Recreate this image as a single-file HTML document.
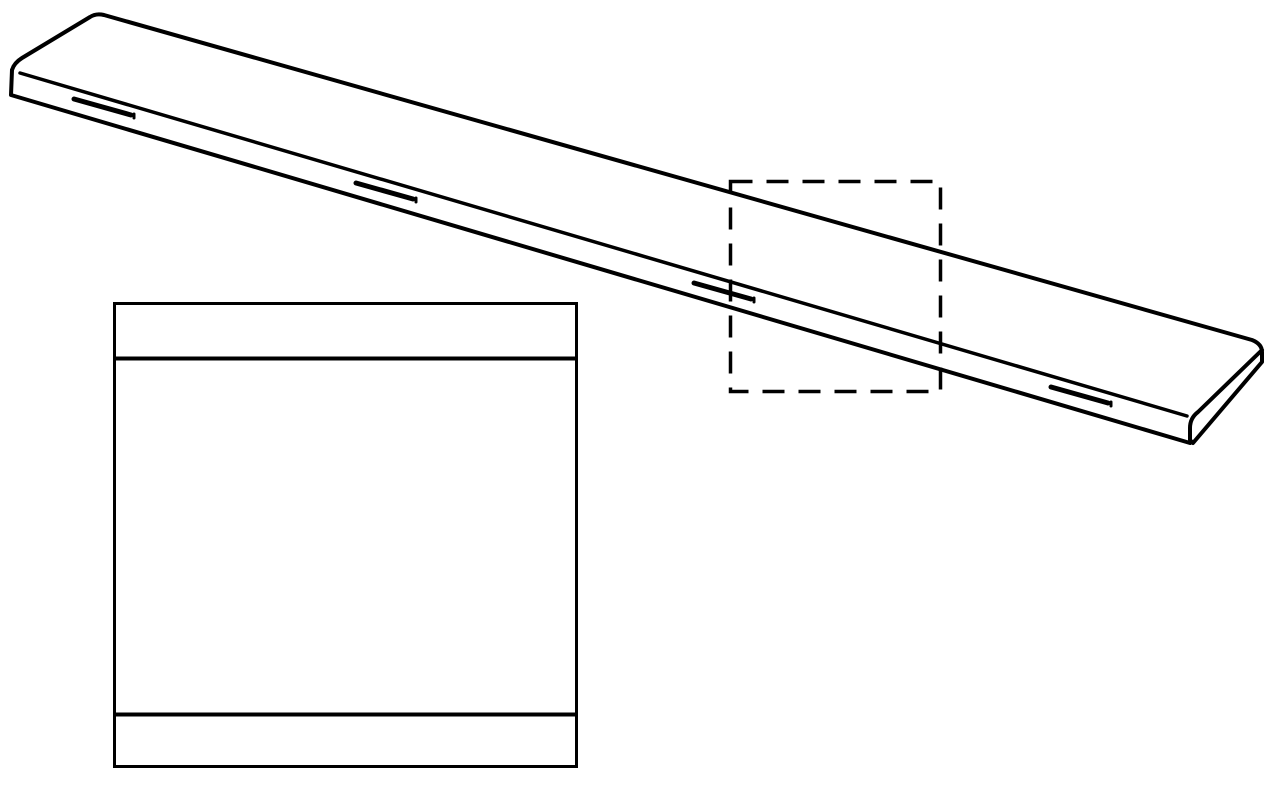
<!DOCTYPE html>
<html><head><meta charset="utf-8"><style>html,body{margin:0;padding:0;background:#fff;width:1280px;height:800px;overflow:hidden}</style></head>
<body>
<svg width="1280" height="800" viewBox="0 0 1280 800" xmlns="http://www.w3.org/2000/svg" fill="none" stroke="#000" stroke-linejoin="round" stroke-linecap="round">
<path d="M12,70 Q14,63 22,58 L90,17 Q96,13 104,15 L1252,340 Q1262,344 1262,352 L1262,362 L1193,443 L1190,440 L1190,428 Q1190,418 1198,412 L1262,350" stroke-width="4"/>
<path d="M12,70 L11,95 L1190,443" stroke-width="4"/>
<path d="M20,73 L1187,416" stroke-width="3.5"/>
<g stroke-width="5">
<line x1="74" y1="99" x2="131" y2="115"/>
<line x1="356" y1="183" x2="413" y2="199"/>
<line x1="694" y1="283" x2="751" y2="299"/>
<line x1="1051" y1="387" x2="1108" y2="403"/>
</g>
<g stroke-width="3">
<line x1="134" y1="114" x2="134" y2="118"/>
<line x1="416" y1="198" x2="416" y2="202"/>
<line x1="754" y1="298" x2="754" y2="302"/>
<line x1="1111" y1="402" x2="1111" y2="406"/>
</g>
<rect x="730.5" y="181.5" width="210" height="210" stroke-width="3.5" stroke-dasharray="22,14" stroke-linecap="butt" stroke-linejoin="miter"/>
<rect x="114.5" y="303.5" width="462" height="463" stroke-width="3" stroke-linejoin="miter"/>
<line x1="114" y1="358.5" x2="577" y2="358.5" stroke-width="4" stroke-linecap="butt"/>
<line x1="114" y1="714.5" x2="577" y2="714.5" stroke-width="4" stroke-linecap="butt"/>
</svg>
</body></html>
